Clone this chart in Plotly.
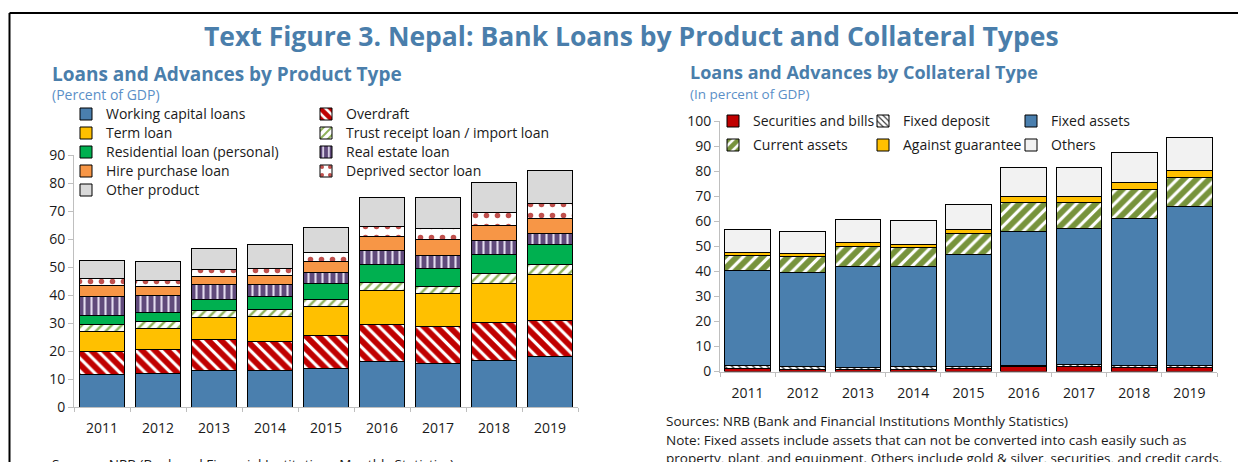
import plotly.graph_objects as go

W, H = 1238, 462

years = ["2011", "2012", "2013", "2014", "2015", "2016", "2017", "2018", "2019"]

# Loans and advances by product type (percent of GDP)
working_capital = [11.7, 12.1, 13.1, 12.9, 13.8, 16.3, 15.4, 16.7, 18.0]
overdraft = [8.1, 8.6, 10.9, 10.6, 11.7, 13.2, 13.4, 13.4, 13.0]
term_loan = [7.1, 7.5, 8.1, 8.9, 10.5, 12.0, 11.9, 14.1, 16.4]
trust_receipt = [2.5, 2.3, 2.4, 2.5, 2.5, 3.1, 2.4, 3.5, 3.5]
residential = [3.2, 3.3, 3.9, 4.6, 5.5, 6.2, 6.3, 6.7, 7.1]
real_estate = [7.0, 6.0, 5.2, 4.1, 4.2, 5.2, 4.6, 5.0, 4.0]
hire_purchase = [3.7, 3.2, 3.1, 3.4, 3.8, 4.8, 6.0, 5.5, 5.4]
deprived_sector = [2.7, 2.2, 2.5, 2.5, 3.2, 3.6, 3.6, 4.6, 5.3]
other_product = [6.4, 6.8, 7.5, 8.5, 8.9, 10.4, 11.2, 10.7, 11.6]

# Loans and advances by collateral type (percent of GDP)
securities_bills = [1.1, 1.0, 0.8, 0.9, 1.2, 1.9, 1.9, 1.6, 1.6]
fixed_deposit = [1.2, 0.9, 0.7, 0.9, 0.7, 0.5, 0.9, 0.7, 0.7]
fixed_assets = [38.0, 37.5, 40.4, 40.1, 44.9, 53.6, 54.2, 58.9, 63.6]
current_assets = [6.0, 6.7, 8.2, 7.7, 8.3, 11.3, 10.5, 11.6, 11.7]
against_guarantee = [1.4, 1.2, 1.2, 1.3, 1.7, 2.4, 2.5, 2.8, 2.8]
others = [9.1, 8.6, 9.3, 9.2, 9.7, 11.6, 11.6, 11.9, 12.9]

left_ticks = [0, 10, 20, 30, 40, 50, 60, 70, 80, 90]
right_ticks = [0, 10, 20, 30, 40, 50, 60, 70, 80, 90, 100]

BLUE_TITLE = "#4a7eab"
FONT = "Open Sans"
TXT = "#1a1a1a"


def px_x(p):
    return p / W


def px_y(p):
    return 1 - p / H


fig = go.Figure()

OUTLINE = dict(color="#000000", width=1)


def add_bar(name, values, xaxis, yaxis, legend, color, pattern=None, width=0.82, group=None):
    marker = dict(color=color, line=OUTLINE)
    if pattern is not None:
        marker["pattern"] = dict(fgopacity=1, fillmode="replace", **pattern)
    fig.add_trace(go.Bar(
        # legend rows are packed tightly, so the label carries its own size
        name=f'<span style="font-size:14px">{name}</span>',
        x=years, y=values, xaxis=xaxis, yaxis=yaxis,
        marker=marker, width=width, legend=legend, legendgroup=group,
        hovertemplate=name + ": %{y}<extra>%{x}</extra>",
    ))


# Left panel: product types (two legend columns)
add_bar("Working capital loans", working_capital, "x", "y", "legend", "#4a7fae", group="p1")
add_bar("Overdraft", overdraft, "x", "y", "legend2", "white",
        dict(shape="\\", fgcolor="#c00000", bgcolor="white", size=9, solidity=0.65), group="p2")
add_bar("Term loan", term_loan, "x", "y", "legend", "#ffc000", group="p3")
add_bar("Trust receipt loan / import loan", trust_receipt, "x", "y", "legend2", "white",
        dict(shape="/", fgcolor="#8fb35a", bgcolor="white", size=7, solidity=0.35), group="p4")
add_bar("Residential loan (personal)", residential, "x", "y", "legend", "#00b050", group="p5")
add_bar("Real estate loan", real_estate, "x", "y", "legend2", "#604a7b",
        dict(shape="|", fgcolor="#e4dcef", bgcolor="#604a7b", size=7, solidity=0.3), group="p6")
add_bar("Hire purchase loan", hire_purchase, "x", "y", "legend", "#f79646", group="p7")
add_bar("Deprived sector loan", deprived_sector, "x", "y", "legend2", "white",
        dict(shape=".", fgcolor="#c0504d", bgcolor="white", size=11, solidity=0.2), group="p8")
add_bar("Other product", other_product, "x", "y", "legend", "#d9d9d9", group="p9")

# Right panel: collateral types (three legend columns)
RW = 0.83
add_bar("Securities and bills", securities_bills, "x2", "y2", "legend3", "#c00000", width=RW, group="c1")
add_bar("Fixed deposit", fixed_deposit, "x2", "y2", "legend4", "white",
        dict(shape="\\", fgcolor="#404040", bgcolor="white", size=5, solidity=0.3), width=RW, group="c2")
add_bar("Fixed assets", fixed_assets, "x2", "y2", "legend5", "#4a7fae", width=RW, group="c3")
add_bar("Current assets", current_assets, "x2", "y2", "legend3", "white",
        dict(shape="/", fgcolor="#77933c", bgcolor="white", size=9, solidity=0.65), width=RW, group="c4")
add_bar("Against guarantee", against_guarantee, "x2", "y2", "legend4", "#ffc000", width=RW, group="c5")
add_bar("Others", others, "x2", "y2", "legend5", "#f2f2f2", width=RW, group="c6")

axis_common = dict(
    showgrid=False, zeroline=False, showline=True, linecolor="#bfbfbf", linewidth=1,
    ticks="outside", tickcolor="#bfbfbf", automargin=False,
    tickfont=dict(family=FONT, size=14, color=TXT),
)

legend_common = dict(
    bgcolor="rgba(0,0,0,0)", borderwidth=0, orientation="v",
    font=dict(family=FONT, size=12, color=TXT), itemwidth=30,
    xanchor="left", yanchor="top", itemclick=False, itemdoubleclick=False,
)

fig.update_layout(
    width=W, height=H,
    margin=dict(l=0, r=0, t=0, b=0, autoexpand=False),
    paper_bgcolor="white", plot_bgcolor="white",
    barmode="stack",
    font=dict(family=FONT, color=TXT),
    xaxis=dict(domain=[px_x(74), px_x(578)], anchor="y", type="category",
               tickson="boundaries", ticklen=4, ticklabelstandoff=8, **axis_common),
    yaxis=dict(domain=[px_y(407), px_y(155)], anchor="x", range=[0, 90],
               tickvals=left_ticks, ticklen=5, **axis_common),
    xaxis2=dict(domain=[px_x(720), px_x(1217)], anchor="y2", type="category",
                tickson="boundaries", ticklen=4, ticklabelstandoff=9, **axis_common),
    yaxis2=dict(domain=[px_y(371.5), px_y(121)], anchor="x2", range=[0, 100],
                tickvals=right_ticks, ticklen=5, **axis_common),
    legend=dict(x=px_x(66), y=px_y(99.5), traceorder="normal", tracegroupgap=0, **legend_common),
    legend2=dict(x=px_x(306), y=px_y(99.5), traceorder="normal", tracegroupgap=0, **legend_common),
    legend3=dict(x=px_x(713), y=px_y(106.5), traceorder="grouped", tracegroupgap=5, **legend_common),
    legend4=dict(x=px_x(863), y=px_y(106.5), traceorder="grouped", tracegroupgap=5, **legend_common),
    legend5=dict(x=px_x(1011), y=px_y(106.5), traceorder="grouped", tracegroupgap=5, **legend_common),
    showlegend=True,
)


def text(x, y, s, size, color=TXT, bold=False, xanchor="left"):
    fig.add_annotation(
        x=px_x(x), y=px_y(y), xref="paper", yref="paper", text=s, showarrow=False,
        xanchor=xanchor, yanchor="middle", align="left",
        font=dict(family=FONT, size=size, color=color, weight=700 if bold else 400),
    )


text(631, 36, "Text Figure 3. Nepal: Bank Loans by Product and Collateral Types", 26.5, BLUE_TITLE, True, "center")
text(50, 74, "Loans and Advances by Product Type", 19, BLUE_TITLE, True)
text(50, 95, "(Percent of GDP)", 14, "#5b8fc7")
text(688, 72, "Loans and Advances by Collateral Type", 18, BLUE_TITLE, True)
text(688, 94, "(In percent of GDP)", 13.5, "#5b8fc7")

text(664, 421, "Sources: NRB (Bank and Financial Institutions Monthly Statistics)", 13.5)
text(664, 440, "Note: Fixed assets include assets that can not be converted into cash easily such as", 13.5)
text(664, 458, "property, plant, and equipment. Others include gold &amp; silver, securities, and credit cards.", 13.5)
text(50, 464, "Sources: NRB (Bank and Financial Institutions Monthly Statistics)", 13.5)

# Frame around the figure (left and top edges)
fig.add_shape(type="line", xref="paper", yref="paper",
              x0=px_x(9.5), x1=px_x(9.5), y0=0, y1=px_y(13),
              line=dict(color="black", width=2))
fig.add_shape(type="line", xref="paper", yref="paper",
              x0=px_x(9.5), x1=1, y0=px_y(13), y1=px_y(13),
              line=dict(color="black", width=2))

fig.write_html("out.html")
